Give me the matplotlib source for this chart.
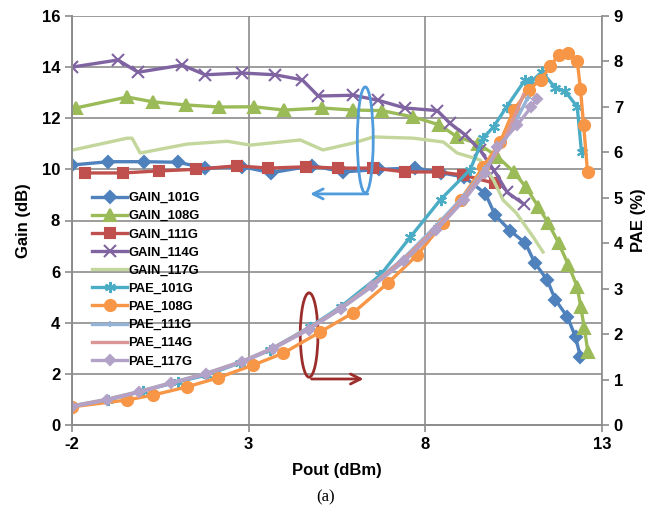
import numpy as np
import matplotlib
matplotlib.use('Agg')
import matplotlib.pyplot as plt
from matplotlib.patches import Ellipse

plt.rcParams['font.family'] = ['Liberation Sans', 'DejaVu Sans']
plt.rcParams['font.weight'] = 'bold'
plt.rcParams['axes.unicode_minus'] = False

# Gain curves (left axis, dB)
g101_x = [-2, -0.97, 0.04, 1.0, 1.77, 2.82, 3.64, 4.8, 5.68, 6.7, 7.72, 8.43, 9.1, 9.7, 9.98, 10.4, 10.83, 11.1, 11.45, 11.68, 12.02, 12.25, 12.39]
g101_y = [10.17, 10.3, 10.3, 10.28, 10.05, 10.1, 9.87, 10.14, 9.9, 10.0, 10.06, 9.87, 9.7, 9.05, 8.2, 7.6, 7.12, 6.34, 5.67, 4.9, 4.23, 3.45, 2.66]

g108_x = [-1.9, -0.44, 0.3, 1.23, 2.16, 3.15, 4.0, 5.08, 5.96, 6.76, 7.66, 8.4, 8.9, 9.5, 10.04, 10.5, 10.85, 11.2, 11.48, 11.77, 12.05, 12.3, 12.4, 12.5, 12.6]
g108_y = [12.4, 12.83, 12.64, 12.52, 12.44, 12.45, 12.32, 12.4, 12.32, 12.3, 12.05, 11.74, 11.27, 11.0, 10.5, 9.9, 9.3, 8.53, 7.9, 7.12, 6.26, 5.4, 4.6, 3.8, 2.86]

g111_x = [-1.63, -0.56, 0.46, 1.5, 2.67, 3.55, 4.63, 5.53, 6.53, 7.43, 8.37, 9.07, 9.98]
g111_y = [9.86, 9.86, 9.94, 10.0, 10.14, 10.05, 10.1, 10.05, 10.05, 9.9, 9.9, 9.78, 9.45]

g114_x = [-2, -0.7, -0.13, 1.12, 1.77, 2.82, 3.75, 4.52, 4.97, 5.96, 6.67, 7.43, 8.34, 8.7, 9.13, 9.55, 9.95, 10.32, 10.78]
g114_y = [14.0, 14.28, 13.8, 14.08, 13.7, 13.77, 13.7, 13.5, 12.87, 12.9, 12.7, 12.4, 12.3, 11.8, 11.35, 10.75, 9.95, 9.1, 8.65]

g117_x = [-2, -0.44, -0.3, -0.07, 1.26, 2.39, 3.05, 4.46, 5.1, 5.96, 6.53, 7.66, 8.51, 8.9, 9.55, 9.93, 10.2, 10.57, 11.05, 11.33]
g117_y = [10.75, 11.22, 11.22, 10.64, 10.99, 11.1, 10.95, 11.15, 10.76, 11.03, 11.27, 11.22, 11.07, 10.64, 10.37, 9.58, 8.8, 8.3, 7.36, 6.77]

# PAE curves (right axis, %)
p101_x = [-2, -0.98, 0.01, 1.0, 1.82, 2.76, 3.6, 4.74, 5.6, 6.73, 7.58, 8.43, 9.27, 9.64, 9.93, 10.3, 10.83, 11.0, 11.3, 11.68, 11.96, 12.3, 12.42]
p101_y = [0.42, 0.55, 0.75, 0.95, 1.1, 1.37, 1.65, 2.16, 2.6, 3.3, 4.14, 4.96, 5.62, 6.32, 6.56, 7.0, 7.6, 7.56, 7.77, 7.42, 7.34, 7.0, 6.0]

p108_x = [-2, -0.44, 0.3, 1.26, 2.14, 3.13, 3.98, 5.03, 5.96, 6.95, 7.77, 8.51, 9.0, 9.64, 10.12, 10.5, 10.92, 11.26, 11.54, 11.77, 12.05, 12.3, 12.39, 12.48, 12.59]
p108_y = [0.4, 0.55, 0.66, 0.84, 1.04, 1.32, 1.58, 2.05, 2.47, 3.13, 3.74, 4.45, 4.96, 5.68, 6.23, 6.93, 7.37, 7.6, 7.89, 8.15, 8.19, 8.0, 7.4, 6.6, 5.57]

p111_x = [-2, -1.0, -0.1, 0.8, 1.8, 2.8, 3.7, 4.7, 5.6, 6.5, 7.4, 8.3, 9.1, 9.7, 10.2, 10.6, 10.9]
p111_y = [0.42, 0.57, 0.74, 0.93, 1.14, 1.4, 1.7, 2.14, 2.58, 3.1, 3.68, 4.38, 5.05, 5.65, 6.2, 6.75, 7.2]

p114_x = [-2, -1.0, -0.1, 0.8, 1.8, 2.8, 3.7, 4.7, 5.6, 6.5, 7.4, 8.3, 9.1, 9.7, 10.2, 10.5, 10.78]
p114_y = [0.41, 0.56, 0.73, 0.92, 1.13, 1.39, 1.69, 2.12, 2.56, 3.08, 3.65, 4.33, 5.0, 5.62, 6.2, 6.75, 7.27]

p117_x = [-2, -1.0, -0.1, 0.8, 1.8, 2.8, 3.7, 4.7, 5.6, 6.5, 7.4, 8.3, 9.1, 9.7, 10.04, 10.6, 11.0, 11.17]
p117_y = [0.4, 0.55, 0.72, 0.92, 1.12, 1.38, 1.68, 2.1, 2.55, 3.05, 3.6, 4.28, 4.95, 5.55, 6.12, 6.6, 7.0, 7.18]

x_ticks = [-2, 3, 8, 13]
gain_ticks = [0, 2, 4, 6, 8, 10, 12, 14, 16]
pae_ticks = [0, 1, 2, 3, 4, 5, 6, 7, 8, 9]

fig = plt.figure(figsize=(6.52, 5.15), dpi=100)
ax = fig.add_axes([72/652, 1-425/515, (602-72)/652, (425-16)/515])
ax2 = ax.twinx()

lw = 2.4
gain_series = [
    (g101_x, g101_y, 'GAIN_101G', '#4F81BD', 'D', 6),
    (g108_x, g108_y, 'GAIN_108G', '#9BBB59', '^', 8),
    (g111_x, g111_y, 'GAIN_111G', '#C0504D', 's', 7),
    (g114_x, g114_y, 'GAIN_114G', '#8064A2', 'x', 8),
    (g117_x, g117_y, 'GAIN_117G', '#C3D69B', None, 0),
]
pae_series = [
    (p101_x, p101_y, 'PAE_101G', '#4BACC6', (6, 2, 0), 8),
    (p108_x, p108_y, 'PAE_108G', '#F79646', 'o', 8),
    (p111_x, p111_y, 'PAE_111G', '#95B3D7', '+', 5),
    (p114_x, p114_y, 'PAE_114G', '#D99694', None, 0),
    (p117_x, p117_y, 'PAE_117G', '#B3A2C7', 'D', 5),
]

handles = []
for xs, ys, label, color, marker, ms in gain_series:
    h, = ax.plot(xs, ys, color=color, lw=lw, marker=marker, ms=ms,
                 mew=1.5, label=label)
    handles.append(h)
for xs, ys, label, color, marker, ms in pae_series:
    h, = ax2.plot(xs, ys, color=color, lw=lw, marker=marker, ms=ms,
                  mew=1.5, label=label)
    handles.append(h)

ax.set_xlim(-2, 13)
ax.set_ylim(0, 16)
ax2.set_ylim(0, 9)
ax.set_xticks(x_ticks)
ax.set_yticks(gain_ticks)
ax2.set_yticks(pae_ticks)
ax.grid(True, color='#8c8c8c', lw=1.2)
ax.set_axisbelow(True)

for a in (ax, ax2):
    for s in a.spines.values():
        s.set_color('#8c8c8c')
        s.set_linewidth(1.2)
    a.spines['top'].set_visible(False)
    a.tick_params(colors='#8c8c8c', labelcolor='black', labelsize=12,
                  length=5, width=1.2)
ax.spines['right'].set_visible(False)

ax.set_xlabel('Pout (dBm)', fontsize=12, fontweight='bold', labelpad=8)
ax.set_ylabel('Gain (dB)', fontsize=12, fontweight='bold', labelpad=8)
ax2.set_ylabel('PAE (%)', fontsize=12, fontweight='bold', labelpad=6)

# annotation ellipses and arrows
ax.add_patch(Ellipse((6.3, 11.15), 0.45, 4.15, fill=False, ec='#4F9BDB', lw=2, zorder=5))
ax.annotate('', xy=(4.66, 9.04), xytext=(6.45, 9.04),
            arrowprops=dict(arrowstyle='->', color='#4F9BDB', lw=2, mutation_scale=18))
ax.add_patch(Ellipse((4.71, 3.52), 0.5, 3.3, fill=False, ec='#9B2D2A', lw=2, zorder=5))
ax.annotate('', xy=(6.33, 1.8), xytext=(4.7, 1.8),
            arrowprops=dict(arrowstyle='->', color='#9B2D2A', lw=2, mutation_scale=18))

leg = ax2.legend(handles=handles, loc='upper left',
                 bbox_to_anchor=(92/652, 1-192/515), bbox_transform=fig.transFigure,
                 frameon=False, fontsize=9.4, handlelength=2.7, handletextpad=0.1,
                 labelspacing=0.46, borderpad=0, borderaxespad=0)
for t in leg.get_texts():
    t.set_fontweight('bold')

fig.text(0.5, 1-497/515, '(a)', ha='center', va='center', fontsize=12,
         family=['Liberation Serif', 'DejaVu Serif'], fontweight='normal')

fig.savefig('out.png', dpi=100)
